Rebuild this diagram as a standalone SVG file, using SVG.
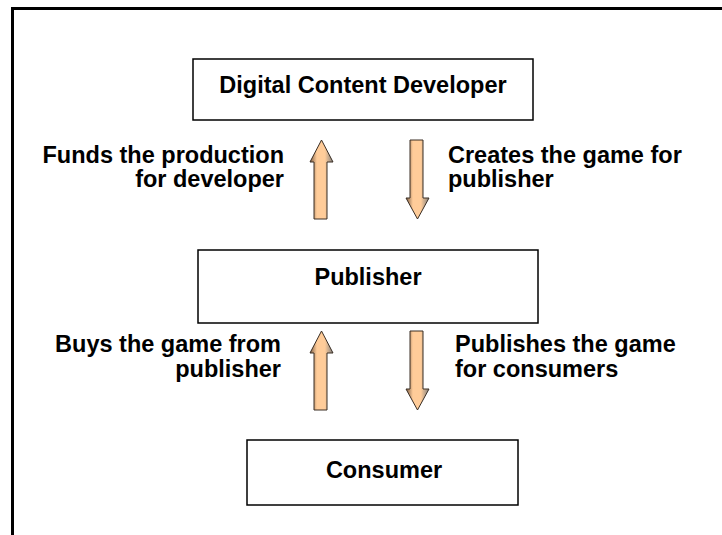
<svg xmlns="http://www.w3.org/2000/svg" width="722" height="535" viewBox="0 0 722 535">
  <defs>
    <linearGradient id="shade" x1="0" y1="0" x2="1" y2="0">
      <stop offset="0" stop-color="#7a5c44"/>
      <stop offset="0.3" stop-color="#ffcc99"/>
      <stop offset="0.65" stop-color="#ffcc99"/>
      <stop offset="1" stop-color="#7f7f7f"/>
    </linearGradient>
    <!-- block arrows, origin at the tip -->
    <path id="up" d="M0 0 L11.5 22 L5.5 22 L5.5 79 L-7.5 79 L-7.5 22 L-11.5 22 Z"/>
    <path id="down" d="M0 0 L11.5 -21 L5.5 -21 L5.5 -79 L-7.5 -79 L-7.5 -21 L-11.5 -21 Z"/>
  </defs>
  <style>
    .frame { fill: none; stroke: #000; stroke-width: 3; }
    .box { fill: #fff; stroke: #000; stroke-width: 1.5; }
    .t { font-family: "Liberation Sans", Arial, sans-serif; font-weight: bold; font-size: 23.5px; fill: #000; }
    .c { text-anchor: middle; }
    .r { text-anchor: end; }
    .arrow { fill: url(#shade); stroke: #3a2e24; stroke-width: 1; }
  </style>

  <rect width="722" height="535" fill="#fff"/>
  <!-- page frame: top and left edges -->
  <path class="frame" d="M12.5 535 L12.5 8.5 L722 8.5"/>

  <g id="developer">
    <rect class="box" x="193" y="59" width="340" height="61"/>
    <text class="t c" x="363" y="93">Digital Content Developer</text>
  </g>

  <g id="publisher">
    <rect class="box" x="198" y="250" width="340" height="73"/>
    <text class="t c" x="368" y="285">Publisher</text>
  </g>

  <g id="consumer">
    <rect class="box" x="247" y="440" width="271" height="65"/>
    <text class="t c" x="384" y="478">Consumer</text>
  </g>

  <g id="connectors">
    <use href="#up" class="arrow" x="321.5" y="140"/>
    <use href="#down" class="arrow" x="417.5" y="219"/>
    <use href="#up" class="arrow" x="321.5" y="331"/>
    <use href="#down" class="arrow" x="417.5" y="410"/>

    <text class="t r" x="284" y="163">Funds the production</text>
    <text class="t r" x="284" y="187">for developer</text>
    <text class="t" x="448" y="163">Creates the game for</text>
    <text class="t" x="448" y="187">publisher</text>

    <text class="t r" x="281" y="352">Buys the game from</text>
    <text class="t r" x="281" y="377">publisher</text>
    <text class="t" x="455" y="352">Publishes the game</text>
    <text class="t" x="455" y="377">for consumers</text>
  </g>
</svg>
